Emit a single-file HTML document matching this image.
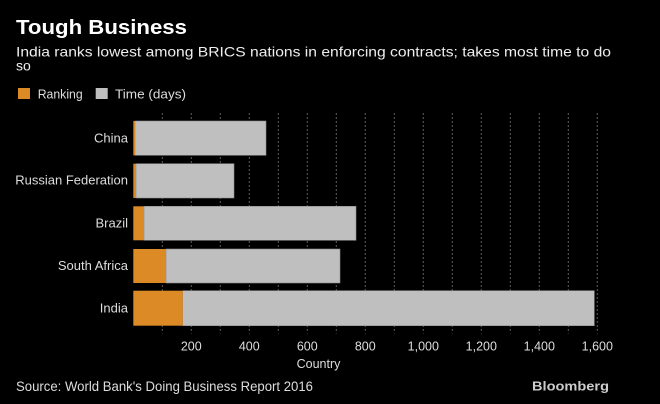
<!DOCTYPE html>
<html>
<head>
<meta charset="utf-8">
<style>
  html, body { margin:0; padding:0; background:#000; }
  body { width:660px; height:404px; overflow:hidden; }
  svg { display:block; }
  text { font-family: "Liberation Sans", "DejaVu Sans", sans-serif; }
</style>
</head>
<body>
<svg width="660" height="404" viewBox="0 0 660 404" xmlns="http://www.w3.org/2000/svg">
  <rect x="0" y="0" width="660" height="404" fill="#000"/>

  <!-- Title & subtitle -->
  <text x="16" y="34" font-size="20" font-weight="bold" fill="#ffffff" textLength="171" lengthAdjust="spacingAndGlyphs">Tough Business</text>
  <text x="16" y="56.7" font-size="14" fill="#eeeeee" textLength="595" lengthAdjust="spacingAndGlyphs">India ranks lowest among BRICS nations in enforcing contracts; takes most time to do</text>
  <text x="16" y="70.7" font-size="14" fill="#eeeeee">so</text>

  <!-- Legend -->
  <rect x="18" y="88" width="12" height="11" fill="#dc8a26"/>
  <text x="37.7" y="98.5" font-size="13" fill="#dddddd" textLength="45" lengthAdjust="spacingAndGlyphs">Ranking</text>
  <rect x="95.7" y="88" width="12" height="11" fill="#bfbfbf"/>
  <text x="115" y="98.5" font-size="13" fill="#dddddd" textLength="71" lengthAdjust="spacingAndGlyphs">Time (days)</text>

  <!-- Gridlines -->
  <g stroke="#5e5e5e" stroke-width="1" stroke-dasharray="2,2">
    <line x1="162.3" y1="113" x2="162.3" y2="333.5"/>
    <line x1="191.3" y1="113" x2="191.3" y2="333.5"/>
    <line x1="220.3" y1="113" x2="220.3" y2="333.5"/>
    <line x1="249.3" y1="113" x2="249.3" y2="333.5"/>
    <line x1="278.3" y1="113" x2="278.3" y2="333.5"/>
    <line x1="307.3" y1="113" x2="307.3" y2="333.5"/>
    <line x1="336.3" y1="113" x2="336.3" y2="333.5"/>
    <line x1="365.3" y1="113" x2="365.3" y2="333.5"/>
    <line x1="394.3" y1="113" x2="394.3" y2="333.5"/>
    <line x1="423.3" y1="113" x2="423.3" y2="333.5"/>
    <line x1="452.3" y1="113" x2="452.3" y2="333.5"/>
    <line x1="481.3" y1="113" x2="481.3" y2="333.5"/>
    <line x1="510.3" y1="113" x2="510.3" y2="333.5"/>
    <line x1="539.3" y1="113" x2="539.3" y2="333.5"/>
    <line x1="568.3" y1="113" x2="568.3" y2="333.5"/>
    <line x1="597.3" y1="113" x2="597.3" y2="333.5"/>
  </g>

  <!-- Bars -->
  <g stroke="#8c8c8c" stroke-width="0.6">
    <!-- China -->
    <rect x="135" y="121" width="131" height="34.3" fill="#bfbfbf"/>
    <rect x="133.3" y="121" width="1.7" height="34.3" fill="#dc8a26" stroke="none"/>
    <!-- Russian Federation -->
    <rect x="136" y="163.7" width="98" height="34.3" fill="#bfbfbf"/>
    <rect x="133.3" y="163.7" width="2.7" height="34.3" fill="#dc8a26" stroke="none"/>
    <!-- Brazil -->
    <rect x="144" y="206.3" width="212" height="34" fill="#bfbfbf"/>
    <rect x="133.3" y="206.3" width="10.7" height="34" fill="#dc8a26" stroke="none"/>
    <!-- South Africa -->
    <rect x="166" y="249" width="174" height="34" fill="#bfbfbf"/>
    <rect x="133.3" y="249" width="32.7" height="34" fill="#dc8a26" stroke="none"/>
    <!-- India -->
    <rect x="182.7" y="290.7" width="411.6" height="35" fill="#bfbfbf"/>
    <rect x="133.3" y="290.7" width="49.4" height="35" fill="#dc8a26" stroke="none"/>
  </g>

  <!-- Category labels -->
  <g font-size="13" fill="#dddddd" text-anchor="end">
    <text x="128" y="142.5">China</text>
    <text x="128" y="184.5">Russian Federation</text>
    <text x="128" y="227.5">Brazil</text>
    <text x="128" y="270">South Africa</text>
    <text x="128" y="312.5">India</text>
  </g>

  <!-- Tick labels -->
  <g font-size="12.5" fill="#dddddd" text-anchor="middle">
    <text x="191.3" y="350.7">200</text>
    <text x="249.3" y="350.7">400</text>
    <text x="307.3" y="350.7">600</text>
    <text x="365.3" y="350.7">800</text>
    <text x="423.3" y="350.7">1,000</text>
    <text x="481.3" y="350.7">1,200</text>
    <text x="539.3" y="350.7">1,400</text>
    <text x="597.3" y="350.7">1,600</text>
  </g>
  <text x="318.5" y="368" font-size="12.5" fill="#dddddd" text-anchor="middle">Country</text>

  <!-- Footer -->
  <text x="16" y="391" font-size="13.5" fill="#dddddd" textLength="297" lengthAdjust="spacingAndGlyphs">Source: World Bank's Doing Business Report 2016</text>
  <text x="532" y="390.5" font-size="13" font-weight="bold" fill="#cccccc" textLength="77" lengthAdjust="spacingAndGlyphs">Bloomberg</text>
</svg>
</body>
</html>
